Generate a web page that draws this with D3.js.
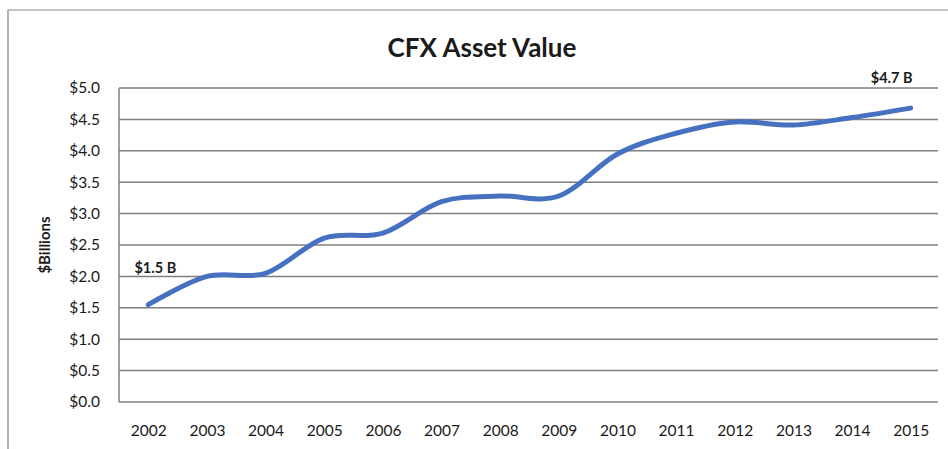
<!DOCTYPE html>
<html>
<head>
<meta charset="utf-8">
<script src="https://cdn.jsdelivr.net/npm/d3@7"></script>
<style>
  body { margin: 0; background: #fff; }
  svg text { font-family: Lato, "Open Sans", sans-serif; fill: #1a1a1a; }
</style>
</head>
<body>
<div id="chart"></div>
<script>
var years = ["2002", "2003", "2004", "2005", "2006", "2007", "2008", "2009", "2010", "2011", "2012", "2013", "2014", "2015"]
var assetValues = [1.55, 2.0, 2.05, 2.61, 2.69, 3.19, 3.28, 3.28, 3.95, 4.28, 4.46, 4.41, 4.53, 4.68]
var yTicks = [0, 0.5, 1, 1.5, 2, 2.5, 3, 3.5, 4, 4.5, 5]
var endLabels = [{"year": "2002", "text": "$1.5 B", "dx": 7}, {"year": "2015", "text": "$4.7 B", "dx": -19}]

var width = 948
var height = 449
var margins = ({
    top: 88,
    right: 10,
    bottom: 47,
    left: 119
})
var plotRight = 938

var svg = d3.select("#chart")
    .append("svg")
    .attr("width", width)
    .attr("height", height)

// scanned frame edges
svg.append("line")
    .attr("x1", 8).attr("x2", 8).attr("y1", 10).attr("y2", height)
    .attr("stroke", "#9a9a9a").attr("stroke-width", 1.5)
svg.append("line")
    .attr("x1", 8).attr("x2", width).attr("y1", 10).attr("y2", 10)
    .attr("stroke", "#b0b0b0").attr("stroke-width", 1.5)

var xValues = d3.scalePoint()
    .domain(years)
    .range([margins.left, 940])
    .padding(0.5)

var yValues = d3.scaleLinear()
    .domain([0, 5])
    .range([height - margins.bottom, margins.top])

// gridlines
svg.append("g")
    .selectAll("line")
    .data(yTicks)
    .enter()
    .append("line")
    .attr("x1", margins.left)
    .attr("x2", plotRight)
    .attr("y1", d => yValues(d))
    .attr("y2", d => yValues(d))
    .attr("stroke", "#7f7f7f")
    .attr("stroke-width", 1.5)

// left axis line
svg.append("line")
    .attr("x1", margins.left).attr("x2", margins.left)
    .attr("y1", yValues(5)).attr("y2", yValues(0))
    .attr("stroke", "#7f7f7f").attr("stroke-width", 1.5)

var yAxis = svg.append("g")
    .attr("transform", `translate(${margins.left},0)`)
    .call(d3.axisLeft(yValues).tickValues(yTicks).tickSize(0).tickPadding(19).tickFormat(d => "$" + d3.format(".1f")(d)))
yAxis.select(".domain").remove()
yAxis.selectAll("text").style("font-size", "15.5px").style("fill", "#1a1a1a").style("font-family", "Lato, sans-serif")

var xAxis = svg.append("g")
    .attr("transform", `translate(0,${yValues(0)})`)
    .call(d3.axisBottom(xValues).tickSize(0).tickPadding(23))
xAxis.select(".domain").remove()
xAxis.selectAll("text").style("font-size", "15.5px").style("fill", "#1a1a1a").style("font-family", "Lato, sans-serif")

var line = d3.line()
    .x((d, i) => xValues(years[i]))
    .y(d => yValues(d))
    .curve(d3.curveCatmullRom.alpha(0))

svg.append("path")
    .datum(assetValues)
    .attr("d", line)
    .attr("fill", "none")
    .attr("stroke", "#4670c0")
    .attr("stroke-width", 5)
    .attr("stroke-linecap", "round")

svg.append("g")
    .selectAll("text")
    .data(endLabels)
    .enter()
    .append("text")
    .attr("x", d => xValues(d.year) + d.dx)
    .attr("y", d => yValues(assetValues[years.indexOf(d.year)]) - (d.year == "2002" ? 32 : 25))
    .attr("text-anchor", "middle")
    .style("font-size", "14.5px")
    .style("font-weight", "bold")
    .text(d => d.text)

svg.append("text")
    .attr("x", 482)
    .attr("y", 57)
    .attr("text-anchor", "middle")
    .style("font-size", "26px")
    .style("font-weight", "bold")
    .text("CFX Asset Value")

svg.append("text")
    .attr("transform", `translate(50,${yValues(2.5)}) rotate(-90)`)
    .attr("text-anchor", "middle")
    .style("font-size", "15px")
    .style("font-weight", "bold")
    .text("$Billions")
</script>
</body>
</html>
